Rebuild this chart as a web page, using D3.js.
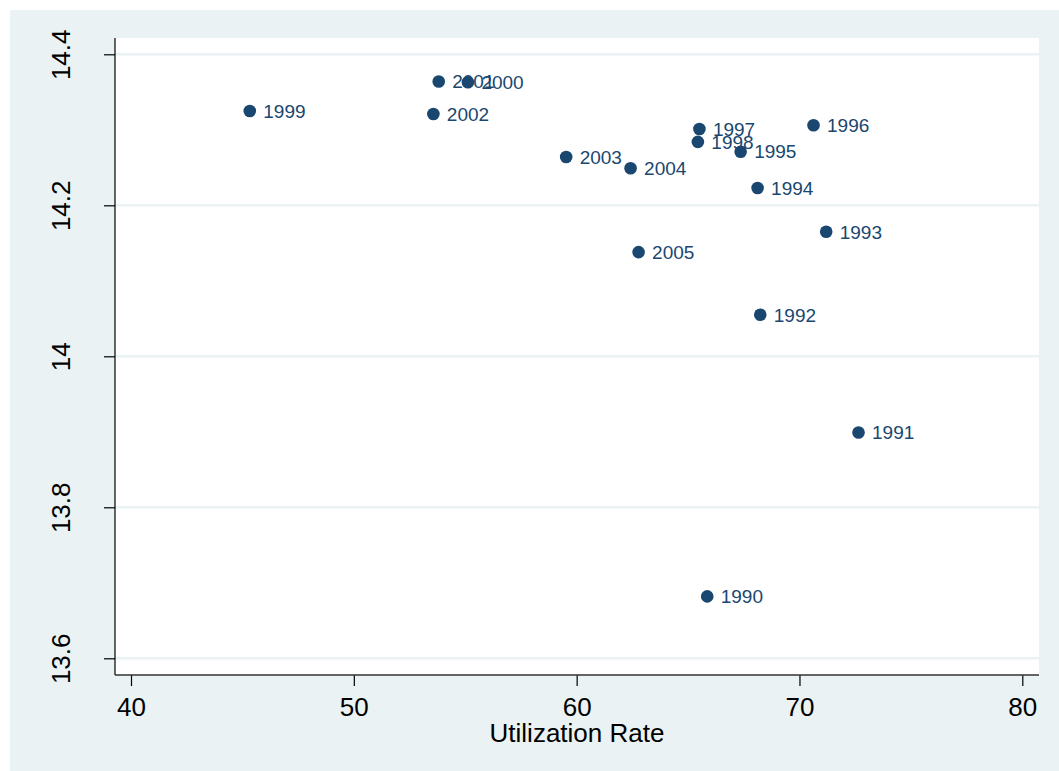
<!DOCTYPE html>
<html>
<head>
<meta charset="utf-8">
<script src="https://cdn.jsdelivr.net/npm/d3@7"></script>
<style>
  html, body { margin: 0; padding: 0; background: #fff; }
  svg { display: block; }
  text { font-family: "Liberation Sans", Arial, sans-serif; }
</style>
</head>
<body>
<svg id="chart" width="1059" height="771"></svg>
<script>
// Utilization rate (x) against log value (y), one labelled point per year
const years = ["1990","1991","1992","1993","1994","1995","1996","1997","1998","1999",
               "2000","2001","2002","2003","2004","2005"];
const utilization = [65.86, 72.65, 68.24, 71.20, 68.12, 67.36, 70.63, 65.51, 65.44, 45.33,
                     55.12, 53.81, 53.57, 59.53, 62.42, 62.78];
const logValue = [13.682, 13.899, 14.055, 14.165, 14.223, 14.271, 14.306, 14.301, 14.284, 14.325,
                  14.363, 14.364, 14.321, 14.264, 14.249, 14.138];
const xTicks = [40, 50, 60, 70, 80];
const yTicks = [13.6, 13.8, 14, 14.2, 14.4];
const xTitle = "Utilization Rate";

const svg = d3.select("#chart");
const W = 1059, H = 771;
const plot = { left: 115, right: 1039, top: 38, bottom: 675 };
const navy = "#1a476f";
const bg = "#eaf2f3";

// outer graph region
svg.append("rect").attr("x", 10).attr("y", 10).attr("width", W - 10).attr("height", H - 10)
  .attr("fill", bg);
// plot region
svg.append("rect").attr("x", plot.left).attr("y", plot.top)
  .attr("width", plot.right - plot.left).attr("height", plot.bottom - plot.top)
  .attr("fill", "#fff");

const x = d3.scaleLinear().domain([40, 80]).range([131, 1022.3]);
const y = d3.scaleLinear().domain([13.6, 14.4]).range([658.3, 54.3]);

// horizontal grid lines
svg.append("g").selectAll("line").data(yTicks).join("line")
  .attr("x1", plot.left).attr("x2", plot.right)
  .attr("y1", d => y(d)).attr("y2", d => y(d))
  .attr("stroke", bg).attr("stroke-width", 2.5);

// y axis
const yAxis = d3.axisLeft(y).tickValues(yTicks).tickSize(11).tickFormat(d3.format("~g"));
const gy = svg.append("g").attr("transform", `translate(${plot.left},0)`).call(yAxis);
gy.select(".domain").remove();
gy.selectAll(".tick line").attr("stroke", "#000").attr("stroke-width", 1.2);
gy.selectAll(".tick text")
  .attr("x", 0).attr("y", 0).attr("dy", null)
  .attr("transform", "translate(-45,0) rotate(-90)")
  .attr("text-anchor", "middle")
  .attr("font-size", 26).attr("fill", "#000");
svg.append("line").attr("x1", plot.left).attr("x2", plot.left)
  .attr("y1", plot.top).attr("y2", plot.bottom)
  .attr("stroke", "#000").attr("stroke-width", 1.2);

// x axis
const xAxis = d3.axisBottom(x).tickValues(xTicks).tickSize(11).tickFormat(d3.format("d"));
const gx = svg.append("g").attr("transform", `translate(0,${plot.bottom})`).call(xAxis);
gx.select(".domain").remove();
gx.selectAll(".tick line").attr("stroke", "#000").attr("stroke-width", 1.2);
gx.selectAll(".tick text").attr("y", 40.7).attr("dy", null)
  .attr("font-size", 26).attr("fill", "#000");
svg.append("line").attr("x1", plot.left).attr("x2", plot.right)
  .attr("y1", plot.bottom).attr("y2", plot.bottom)
  .attr("stroke", "#333").attr("stroke-width", 1.4);

svg.append("text").attr("x", (plot.left + plot.right) / 2).attr("y", 741.7)
  .attr("text-anchor", "middle").attr("font-size", 26).attr("fill", "#000")
  .text(xTitle);

// points with year labels to the right
const pts = years.map((yr, i) => ({ yr, ux: utilization[i], lv: logValue[i] }));
const gp = svg.append("g");
gp.selectAll("circle").data(pts).join("circle")
  .attr("cx", d => x(d.ux)).attr("cy", d => y(d.lv)).attr("r", 6.3)
  .attr("fill", navy);
gp.selectAll("text").data(pts).join("text")
  .attr("x", d => x(d.ux) + 13.5).attr("y", d => y(d.lv) + 6.8)
  .attr("font-size", 19).attr("fill", navy)
  .text(d => d.yr);
</script>
</body>
</html>
